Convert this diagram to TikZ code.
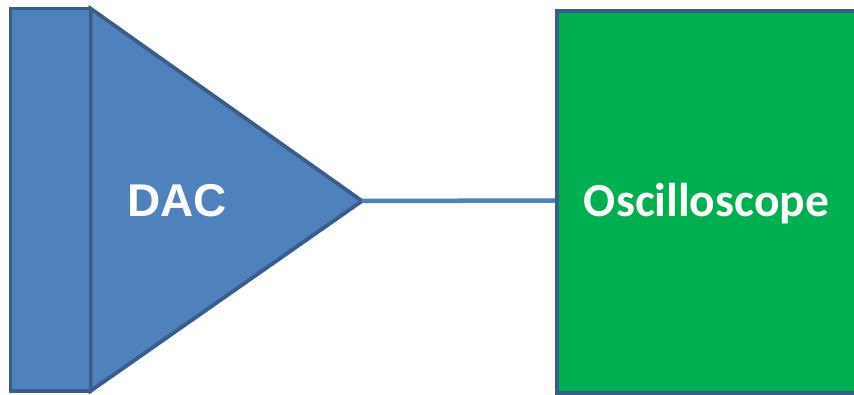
\documentclass[tikz,border=0pt]{standalone}
\usepackage{fontspec}
\setmainfont{Liberation Sans}
\newfontfamily\calibrifont{Carlito}
\definecolor{dacblue}{HTML}{4F81BD}
\definecolor{edgeblue}{HTML}{385D8A}
\definecolor{scopegreen}{HTML}{00B050}
\begin{document}
\begin{tikzpicture}[x=1pt,y=-1pt,
  part/.style={draw=edgeblue, line width=3.8pt, line join=miter},
  wire/.style={draw=dacblue, line width=4.5pt},
  label/.style={text=white, font=\bfseries\fontsize{46}{50}\selectfont, anchor=base, inner sep=0pt}]
  \clip (0,0) rectangle (854,395);
  % DAC: input block and amplifier triangle
  \coordinate (tl) at (90.5,8.5);
  \coordinate (bl) at (90.5,391);
  \coordinate (apex) at (362,201);
  \path[part, fill=dacblue] (tl) -- (apex) -- (bl) -- cycle;
  \path[part, fill=dacblue] (10.5,8.5) rectangle (bl);
  \node[label] (daclabel) at (177,217) {DAC};
  % Oscilloscope block
  \node[part, fill=scopegreen, minimum width=305pt, minimum height=382pt, inner sep=0pt, anchor=north west] (scope) at (555,9) {};
  \node[label, font=\calibrifont\bfseries\fontsize{47.5}{50}\selectfont] (scopelabel) at (706.5,217) {Oscilloscope};
  % Signal wire
  \draw[wire] (apex) -- (scope.west |- 0,200.5);
\end{tikzpicture}
\end{document}
